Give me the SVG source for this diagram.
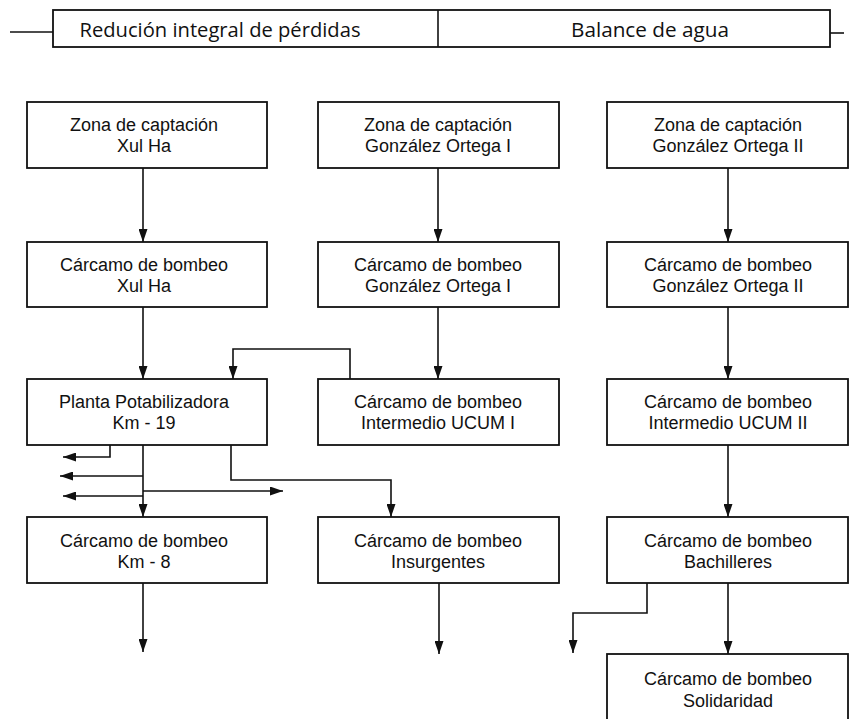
<svg xmlns="http://www.w3.org/2000/svg" width="854" height="719" viewBox="0 0 854 719">
<defs>
<marker id="ah" markerUnits="userSpaceOnUse" markerWidth="13" markerHeight="9" refX="13" refY="4.5" orient="auto" viewBox="0 0 13 9">
<path d="M0,0 L13,4.5 L0,9 z" fill="#111"/>
</marker>
<style>
.box{fill:#fff;stroke:#111;stroke-width:1.8}
.t{font-family:"Liberation Sans",Arial,sans-serif;font-size:18px;fill:#111;text-anchor:middle}
.h{font-family:"Open Sans","Liberation Sans",sans-serif;font-size:20px;fill:#111;text-anchor:middle}
.c{fill:none;stroke:#111;stroke-width:1.6}
.ca{fill:none;stroke:#111;stroke-width:1.6;marker-end:url(#ah)}
</style>
</defs>
<rect width="854" height="719" fill="#fff"/>
<g id="header">
<line class="c" x1="10" y1="32" x2="53" y2="32"/>
<line class="c" x1="830" y1="33" x2="844" y2="33"/>
<rect class="box" x="53" y="10" width="777" height="37"/>
<line class="c" x1="438" y1="10" x2="438" y2="47"/>
<text class="h" x="220" y="37" textLength="281" lengthAdjust="spacingAndGlyphs">Redución integral de pérdidas</text>
<text class="h" x="650" y="37" textLength="158" lengthAdjust="spacingAndGlyphs">Balance de agua</text>
</g>
<g id="connectors">
<line class="ca" x1="143" y1="168" x2="143" y2="242"/>
<line class="ca" x1="143" y1="307" x2="143" y2="379"/>
<line class="ca" x1="438" y1="168" x2="438" y2="242"/>
<line class="ca" x1="438" y1="307" x2="438" y2="379"/>
<line class="ca" x1="728" y1="168" x2="728" y2="242"/>
<line class="ca" x1="728" y1="307" x2="728" y2="379"/>
<line class="ca" x1="728" y1="445" x2="728" y2="517"/>
<line class="ca" x1="728" y1="583" x2="728" y2="654"/>
<polyline class="ca" points="350,379 350,349 233,349 233,379"/>
<line class="ca" x1="143" y1="445" x2="143" y2="517"/>
<polyline class="ca" points="110,445 110,457 63,457"/>
<line class="ca" x1="143" y1="476" x2="60" y2="476"/>
<line class="ca" x1="143" y1="496" x2="63" y2="496"/>
<line class="ca" x1="143" y1="491" x2="283" y2="491"/>
<polyline class="ca" points="231,445 231,480 391,480 391,517"/>
<line class="ca" x1="143" y1="583" x2="143" y2="652"/>
<line class="ca" x1="439" y1="583" x2="439" y2="654"/>
<polyline class="ca" points="647,583 647,613 573,613 573,653"/>
</g>
<g id="n-zona-xulha">
<rect class="box" x="27" y="102" width="240" height="66"/>
<text class="t" x="144" y="131">Zona de captación</text>
<text class="t" x="144" y="152">Xul Ha</text>
</g>
<g id="n-carcamo-xulha">
<rect class="box" x="27" y="242" width="240" height="65"/>
<text class="t" x="144" y="271">Cárcamo de bombeo</text>
<text class="t" x="144" y="292">Xul Ha</text>
</g>
<g id="n-planta">
<rect class="box" x="27" y="379" width="240" height="66"/>
<text class="t" x="144" y="408">Planta Potabilizadora</text>
<text class="t" x="144" y="429">Km - 19</text>
</g>
<g id="n-km8">
<rect class="box" x="27" y="517" width="240" height="66"/>
<text class="t" x="144" y="547">Cárcamo de bombeo</text>
<text class="t" x="144" y="568">Km - 8</text>
</g>
<g id="n-zona-go1">
<rect class="box" x="318" y="102" width="241" height="66"/>
<text class="t" x="438" y="131">Zona de captación</text>
<text class="t" x="438" y="152">González Ortega I</text>
</g>
<g id="n-carcamo-go1">
<rect class="box" x="318" y="242" width="241" height="65"/>
<text class="t" x="438" y="271">Cárcamo de bombeo</text>
<text class="t" x="438" y="292">González Ortega I</text>
</g>
<g id="n-ucum1">
<rect class="box" x="318" y="379" width="241" height="66"/>
<text class="t" x="438" y="408">Cárcamo de bombeo</text>
<text class="t" x="438" y="429">Intermedio UCUM I</text>
</g>
<g id="n-insurgentes">
<rect class="box" x="318" y="517" width="241" height="66"/>
<text class="t" x="438" y="547">Cárcamo de bombeo</text>
<text class="t" x="438" y="568">Insurgentes</text>
</g>
<g id="n-zona-go2">
<rect class="box" x="607" y="102" width="241" height="66"/>
<text class="t" x="728" y="131">Zona de captación</text>
<text class="t" x="728" y="152">González Ortega II</text>
</g>
<g id="n-carcamo-go2">
<rect class="box" x="607" y="242" width="241" height="65"/>
<text class="t" x="728" y="271">Cárcamo de bombeo</text>
<text class="t" x="728" y="292">González Ortega II</text>
</g>
<g id="n-ucum2">
<rect class="box" x="607" y="379" width="241" height="66"/>
<text class="t" x="728" y="408">Cárcamo de bombeo</text>
<text class="t" x="728" y="429">Intermedio UCUM II</text>
</g>
<g id="n-bachilleres">
<rect class="box" x="607" y="517" width="241" height="66"/>
<text class="t" x="728" y="547">Cárcamo de bombeo</text>
<text class="t" x="728" y="568">Bachilleres</text>
</g>
<g id="n-solidaridad">
<rect class="box" x="607" y="654" width="241" height="70"/>
<text class="t" x="728" y="685">Cárcamo de bombeo</text>
<text class="t" x="728" y="707">Solidaridad</text>
</g>
</svg>
